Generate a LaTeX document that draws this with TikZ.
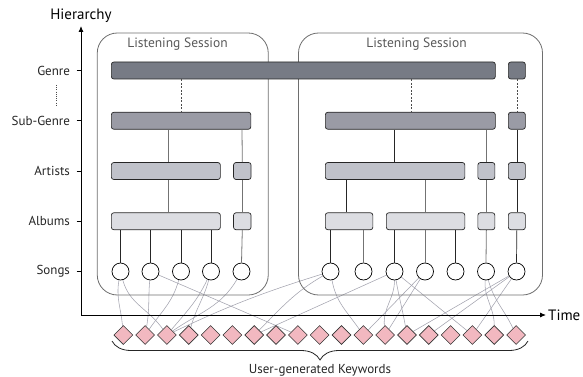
\documentclass[tikz,border=0pt]{standalone}
\usepackage{fontspec}
\setmainfont{PT Sans}
\usetikzlibrary{decorations.pathreplacing,shapes.geometric,arrows.meta}
\pgfdeclarelayer{bg}
\pgfsetlayers{bg,main}
\definecolor{cgenre}{HTML}{777B85}
\definecolor{csub}{HTML}{9A9BA5}
\definecolor{cart}{HTML}{C0C2CA}
\definecolor{calb}{HTML}{DCDDE2}
\definecolor{ckey}{HTML}{F2B8C0}
\definecolor{clink}{HTML}{A3A3AF}
\definecolor{csess}{HTML}{6E6E6E}
\tikzset{
  bar/.style={draw=black!85, line width=0.7pt, rounded corners=2.5pt, minimum height=17pt, inner sep=0pt, anchor=west},
  sess/.style={draw=csess, line width=0.8pt, rounded corners=20pt, inner sep=0pt},
  sesslabel/.style={text=black!65, font=\fontsize{13.5}{15}\selectfont},
  lvl/.style={anchor=east, font=\fontsize{13}{15}\selectfont, text=black!85},
  song/.style={circle, draw=black, fill=white, line width=0.7pt, minimum size=17pt, inner sep=0pt},
  kw/.style={diamond, draw=black!80, fill=ckey, line width=0.6pt, minimum width=19pt, minimum height=19pt, inner sep=0pt},
  vdark/.style={draw=black!85, line width=0.7pt},
  vgray/.style={draw=black!55, line width=0.8pt},
  vdash/.style={draw=black!70, line width=0.7pt, dash pattern=on 2pt off 1.5pt},
  link/.style={draw=clink, line width=0.55pt},
  axis/.style={draw=black, line width=0.9pt, -{Latex[length=6pt,width=5pt]}}
}
\begin{document}
\begin{tikzpicture}[x=1pt,y=-1pt]
\useasboundingbox (0,0) rectangle (583,377);
% sessions
\node[sess, minimum width=171pt, minimum height=262pt] (sess1) at (182.75,164) {};
\node[sess, minimum width=244pt, minimum height=262pt] (sess2) at (420.5,164) {};
\node[sesslabel] (sl1) at (177.5,44.5) {Listening Session};
\node[sesslabel] (sl2) at (416.5,44.5) {Listening Session};
% axes
\coordinate (O) at (81,315);
\coordinate (ytip) at (81,26);
\coordinate (xtip) at (546,315);
\draw[axis] (O) -- (ytip);
\draw[axis] (O) -- (xtip);
\node[font=\fontsize{15}{17}\selectfont] (hier) at (81,16) {Hierarchy};
\node[font=\fontsize{15}{17}\selectfont, anchor=west, inner sep=1pt] (time) at (547,315) {Time};
% level labels
\foreach \n/\t/\yy in {lg/Genre/70.5, ls/Sub-Genre/120.75, la/Artists/171, lb/Albums/221.25, lc/Songs/271.5}{
  \draw[black, line width=0.8pt] (76.5,\yy) -- (81,\yy);
  \node[lvl] (\n) at (73.5,\yy) {\t};
}
\coordinate (dd1) at (56,85);
\coordinate (dd2) at (56,107);
\draw[black!70, line width=0.8pt, dash pattern=on 1pt off 1.2pt] (dd1) -- (dd2);
% genre
\node[bar, fill=cgenre, minimum width=384pt] (g1) at (111,70.5) {};
\node[bar, fill=cgenre, minimum width=17pt] (g2) at (508,70.5) {};
% sub-genre
\node[bar, fill=csub, minimum width=139.5pt] (sg1) at (111,120.75) {};
\node[bar, fill=csub, minimum width=170pt] (sg2) at (325,120.75) {};
\node[bar, fill=csub, minimum width=17pt] (sg3) at (508,120.75) {};
% artists
\node[bar, fill=cart, minimum width=109pt] (ar1) at (111,171) {};
\node[bar, fill=cart, minimum width=17.5pt] (ar2) at (233.2,171) {};
\node[bar, fill=cart, minimum width=139.5pt] (ar3) at (325,171) {};
\node[bar, fill=cart, minimum width=17pt] (ar4) at (477.5,171) {};
\node[bar, fill=cart, minimum width=17pt] (ar5) at (508,171) {};
% albums
\node[bar, fill=calb, minimum width=109pt] (al1) at (111,221.25) {};
\node[bar, fill=calb, minimum width=17.5pt] (al2) at (233.2,221.25) {};
\node[bar, fill=calb, minimum width=47.5pt] (al3) at (325,221.25) {};
\node[bar, fill=calb, minimum width=78.5pt] (al4) at (386,221.25) {};
\node[bar, fill=calb, minimum width=17pt] (al5) at (477.5,221.25) {};
\node[bar, fill=calb, minimum width=17pt] (al6) at (508,221.25) {};
% songs
\foreach \n/\xx in {s1/120.5, s2/150.5, s3/181, s4/211, s5/241.5, t1/330.5, t2/363.5, t3/394.5, t4/425, t5/455.5, t6/486, t7/516.5}{
  \node[song] (\n) at (\xx,271.5) {};
}
% vertical connectors
\draw[vdash] (181,0 |- g1.south) -- (181,0 |- sg1.north);
\draw[vdash] (411.5,0 |- g1.south) -- (411.5,0 |- sg2.north);
\draw[vdash] (g2.south) -- (sg3.north);
\draw[vgray] (168,0 |- sg1.south) -- (168,0 |- ar1.north);
\draw[vgray] (242,0 |- sg1.south) -- (ar2.north);
\draw[vgray] (168,0 |- ar1.south) -- (168,0 |- al1.north);
\draw[vgray] (ar2.south) -- (al2.north);
\draw[vdark] (394.5,0 |- sg2.south) -- (394.5,0 |- ar3.north);
\draw[vgray] (ar4.north) -- (ar4.north |- sg2.south);
\draw[vdark] (sg3.south) -- (ar5.north);
\draw[vdark] (346.5,0 |- ar3.south) -- (346.5,0 |- al3.north);
\draw[vgray] (425,0 |- ar3.south) -- (425,0 |- al4.north);
\draw[vgray] (ar4.south) -- (al5.north);
\draw[vdark] (ar5.south) -- (al6.north);
\foreach \s in {s1,s2,s3,s4}{ \draw[vdark] (\s.north) -- (\s.north |- al1.south); }
\draw[vgray] (s5.north) -- (al2.south);
\draw[vdark] (t1.north) -- (t1.north |- al3.south);
\draw[vgray] (t2.north) -- (t2.north |- al3.south);
\draw[vdark] (t3.north) -- (t3.north |- al4.south);
\draw[vgray] (t4.north) -- (t4.north |- al4.south);
\draw[vdark] (t5.north) -- (t5.north |- al4.south);
\draw[vgray] (t6.north) -- (al5.south);
\draw[vdark] (t7.north) -- (al6.south);
% keywords
\foreach \i in {1,...,19}{
  \node[kw] (k\i) at ({123.3+(\i-1)*21.82},335) {};
}
% links
\begin{pgfonlayer}{bg}
\draw[link] (s1) to[out=-100,in=95] (k1);
\draw[link] (s1) to[out=-75,in=125] (k3);
\draw[link] (s2) to[out=-95,in=80] (k2);
\draw[link] (s2) -- (k9);
\draw[link] (s3) to[out=-105,in=55] (k2);
\draw[link] (s4) to[out=-115,in=50] (k3);
\draw[link] (s4) to[out=-105,in=75] (k4);
\draw[link] (s5) to[out=-120,in=35] (k3);
\draw[link] (t1) to[bend right=4] (k3);
\draw[link] (t1) to[out=-150,in=45] (k7);
\draw[link] (t1) to[out=-80,in=125] (k12);
\draw[link] (t3) -- (k7);
\draw[link] (t3) to[out=-90,in=95] (k13);
\draw[link] (t3) to[out=-80,in=100] (k14);
\draw[link] (t3) -- (k17);
\draw[link] (t4) -- (k12);
\draw[link] (t4) -- (k13);
\draw[link] (t7) -- (k14);
\draw[link] (t7) -- (k15);
\draw[link] (t7) -- (k17);
\draw[link] (t6) to[out=-95,in=90] (k18);
\draw[link] (t6) to[out=-75,in=115] (k19);
\end{pgfonlayer}
% brace
\coordinate (br1) at (112,341);
\coordinate (br2) at (528,341);
\draw[black!85, line width=0.8pt, decorate, decoration={brace, mirror, amplitude=19pt}] (br1) -- (br2);
\node[font=\fontsize{13}{15}\selectfont, text=black!85] (kwl) at (320,370.5) {User-generated Keywords};
\end{tikzpicture}
\end{document}
